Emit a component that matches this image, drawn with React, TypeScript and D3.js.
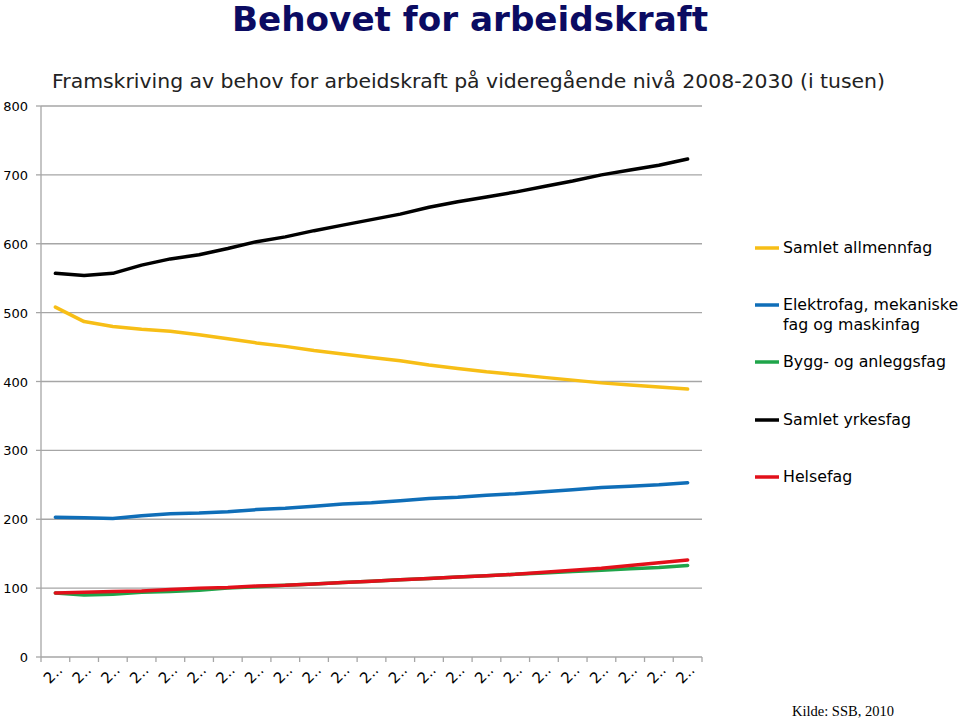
import React from "react";
import * as d3 from "d3";

const years = d3.range(2008, 2031).map(String);
const yTicks = [0, 100, 200, 300, 400, 500, 600, 700, 800];

const allmennfag = [508, 487, 480, 476, 473, 468, 462, 456, 451, 445, 440, 435, 430, 424, 419, 414, 410, 406, 402, 398, 395, 392, 389];
const elektro = [203, 202, 201, 205, 208, 209, 211, 214, 216, 219, 222, 224, 227, 230, 232, 235, 237, 240, 243, 246, 248, 250, 253];
const bygg = [93, 90, 91, 94, 95, 97, 100, 102, 104, 106, 108, 110, 112, 114, 116, 118, 120, 122, 124, 126, 128, 130, 133];
const yrkesfag = [557, 554, 557, 569, 578, 584, 593, 603, 610, 619, 627, 635, 643, 653, 661, 668, 675, 683, 691, 700, 707, 714, 723];
const helsefag = [93, 94, 95, 96, 98, 100, 101, 103, 104, 106, 108, 110, 112, 114, 116, 118, 120, 123, 126, 129, 133, 137, 141];

const seriesNames = ["Samlet allmennfag", "Elektrofag, mekaniske\nfag og maskinfag", "Bygg- og anleggsfag", "Samlet yrkesfag", "Helsefag"];
const seriesValues = [allmennfag, elektro, bygg, yrkesfag, helsefag];
const seriesColors = ["#F7BE16", "#0F6EB8", "#1FA54A", "#000000", "#E2101A"];
const legendY = [248, 305, 362, 420, 477];

export default function App() {
  const W = 960, H = 719;
  const left = 41, right = 702, top = 106, bottom = 657;
  const x = d3.scaleBand<string>().domain(years).range([left, right]);
  const y = d3.scaleLinear().domain([0, 800]).range([bottom, top]);
  const line = d3.line<number>()
    .x((_, i) => (x(years[i]) as number) + x.bandwidth() / 2)
    .y((d) => y(d));
  const font = "'DejaVu Sans', Verdana, sans-serif";
  return (
    <svg width={W} height={H} style={{ position: "absolute", left: 0, top: 0, background: "#fff" }}>
      <text x={470} y={31} textAnchor="middle" fontFamily="'Liberation Sans Narrow', 'Arial Narrow', 'DejaVu Sans Condensed', sans-serif"
        fontWeight="bold" fontSize={33} fill="#0B0B62" textLength={476} lengthAdjust="spacingAndGlyphs">Behovet for arbeidskraft</text>
      <text x={52} y={88} fontFamily={font} fontSize={20} fill="#222" textLength={833} lengthAdjust="spacingAndGlyphs">
        Framskriving av behov for arbeidskraft på videregående nivå 2008-2030 (i tusen)
      </text>
      {yTicks.map((t) => (
        <g key={t}>
          {t > 0 && <line x1={left} x2={right} y1={y(t)} y2={y(t)} stroke="#A6A6A6" strokeWidth={1.3} />}
          <line x1={left - 5} x2={left} y1={y(t)} y2={y(t)} stroke="#A6A6A6" strokeWidth={1.3} />
          <text x={28} y={y(t) + 5} textAnchor="end" fontFamily={font} fontSize={13} fill="#000">{t}</text>
        </g>
      ))}
      <line x1={left} x2={left} y1={top} y2={bottom} stroke="#A6A6A6" strokeWidth={1.3} />
      <line x1={left} x2={right} y1={bottom} y2={bottom} stroke="#A6A6A6" strokeWidth={1.3} />
      {years.map((yr) => (
        <line key={"t" + yr} x1={(x(yr) as number)} x2={(x(yr) as number)} y1={bottom} y2={bottom + 5} stroke="#A6A6A6" strokeWidth={1.3} />
      ))}
      <line x1={right} x2={right} y1={bottom} y2={bottom + 5} stroke="#A6A6A6" strokeWidth={1.3} />
      {years.map((yr) => {
        const cx = (x(yr) as number) + x.bandwidth() / 2 + 8;
        const cy = 671;
        return (
          <text key={"l" + yr} x={cx} y={cy} textAnchor="end" fontFamily={font} fontSize={15} fill="#000"
            transform={`rotate(-45, ${cx}, ${cy})`}>2..</text>
        );
      })}
      {seriesValues.map((vals, i) => (
        <path key={"s" + i} d={line(vals) as string} fill="none" stroke={seriesColors[i]} strokeWidth={3.5} strokeLinejoin="round" strokeLinecap="round" />
      ))}
      {seriesNames.map((n, i) => (
        <g key={"lg" + i}>
          <line x1={755} x2={779} y1={legendY[i]} y2={legendY[i]} stroke={seriesColors[i]} strokeWidth={3.5} />
          {n.split("\n").map((part, j) => (
            <text key={j} x={783} y={legendY[i] + 5 + j * 20} fontFamily={font} fontSize={15.8} fill="#000">{part}</text>
          ))}
        </g>
      ))}
      <text x={792} y={716} fontFamily="'Liberation Serif', 'Times New Roman', serif" fontSize={14.5} fill="#000">Kilde: SSB, 2010</text>
    </svg>
  );
}
